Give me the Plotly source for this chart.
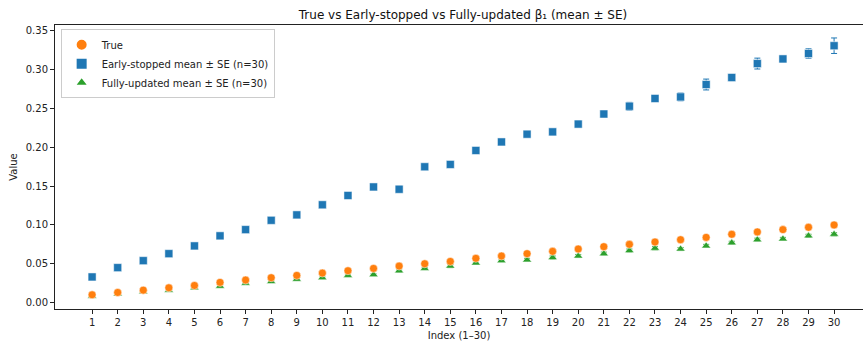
import plotly.graph_objects as go

index = list(range(1, 31))
true_vals = [0.010, 0.013, 0.016, 0.019, 0.022, 0.026, 0.029, 0.032, 0.035, 0.038,
             0.041, 0.044, 0.047, 0.050, 0.053, 0.057, 0.060, 0.063, 0.066, 0.069,
             0.072, 0.075, 0.078, 0.081, 0.084, 0.088, 0.091, 0.094, 0.097, 0.100]
early_mean = [0.033, 0.045, 0.054, 0.063, 0.073, 0.086, 0.094, 0.106, 0.113, 0.126,
              0.138, 0.149, 0.146, 0.175, 0.178, 0.196, 0.207, 0.217, 0.220, 0.230,
              0.243, 0.253, 0.263, 0.265, 0.281, 0.290, 0.308, 0.314, 0.321, 0.331]
early_se = [0.002, 0.002, 0.002, 0.002, 0.002, 0.002, 0.002, 0.002, 0.002, 0.002,
            0.002, 0.002, 0.004, 0.002, 0.003, 0.002, 0.002, 0.003, 0.004, 0.004,
            0.004, 0.005, 0.003, 0.005, 0.007, 0.004, 0.007, 0.004, 0.006, 0.010]
full_mean = [0.008, 0.011, 0.014, 0.016, 0.019, 0.021, 0.025, 0.027, 0.030, 0.032,
             0.035, 0.036, 0.041, 0.044, 0.047, 0.051, 0.054, 0.055, 0.058, 0.060,
             0.063, 0.067, 0.070, 0.069, 0.073, 0.077, 0.081, 0.082, 0.086, 0.088]
full_se = [0.001, 0.001, 0.001, 0.001, 0.001, 0.001, 0.001, 0.001, 0.001, 0.001,
           0.001, 0.001, 0.002, 0.001, 0.002, 0.001, 0.001, 0.002, 0.002, 0.002,
           0.002, 0.002, 0.002, 0.002, 0.002, 0.002, 0.002, 0.002, 0.002, 0.002]

BLUE, ORANGE, GREEN = "#1f77b4", "#ff7f0e", "#2ca02c"
FONT = "DejaVu Sans"

fig = go.Figure()
fig.add_trace(go.Scatter(
    x=index, y=early_mean, mode="markers", name="Early-stopped mean ± SE (n=30)",
    marker=dict(symbol="square", size=8, color=BLUE, line=dict(width=0.5, color="white")),
    error_y=dict(type="data", array=early_se, visible=True, color=BLUE, thickness=1, width=3),
    legendrank=2))
fig.add_trace(go.Scatter(
    x=index, y=full_mean, mode="markers", name="Fully-updated mean ± SE (n=30)",
    marker=dict(symbol="triangle-up", size=8, color=GREEN, line=dict(width=0.5, color="white")),
    error_y=dict(type="data", array=full_se, visible=True, color=GREEN, thickness=1, width=3),
    legendrank=3))
fig.add_trace(go.Scatter(
    x=index, y=true_vals, mode="markers", name="True",
    marker=dict(symbol="circle", size=8, color=ORANGE, line=dict(width=0.5, color="white")),
    legendrank=1))

axis_common = dict(showline=True, mirror=True, linecolor="#222", linewidth=1,
                   ticks="outside", ticklen=4, tickwidth=1, tickcolor="#222",
                   showgrid=False, zeroline=False,
                   tickfont=dict(family=FONT, size=10, color="#222"))

fig.update_layout(
    width=863, height=341, autosize=False,
    margin=dict(l=55, r=0, t=25, b=32),
    plot_bgcolor="white", paper_bgcolor="white",
    font=dict(family=FONT, size=10, color="#222"),
    title=dict(text="True vs Early-stopped vs Fully-updated β₁ (mean ± SE)",
               x=463 / 863, xref="container", xanchor="center",
               y=1 - 15 / 341, yref="container", yanchor="middle",
               font=dict(family=FONT, size=12, color="#111")),
    xaxis=dict(range=[-0.45, 31.13], tickmode="array", tickvals=index,
               ticktext=[str(i) for i in index],
               title=dict(text="Index (1–30)", font=dict(family=FONT, size=10, color="#222"), standoff=4),
               **axis_common),
    yaxis=dict(range=[-0.0083, 0.3577], tickmode="array",
               tickvals=[0, 0.05, 0.10, 0.15, 0.20, 0.25, 0.30, 0.35],
               ticktext=["0.00", "0.05", "0.10", "0.15", "0.20", "0.25", "0.30", "0.35"],
               title=dict(text="Value", font=dict(family=FONT, size=10, color="#222"), standoff=6),
               **axis_common),
    legend=dict(x=0.007, y=0.985, xanchor="left", yanchor="top",
                bgcolor="rgba(255,255,255,0.8)", bordercolor="#ccc", borderwidth=1,
                font=dict(family=FONT, size=10, color="#222"), tracegroupgap=0,
                itemsizing="constant"),
    showlegend=True,
)

fig.write_html("out.html")
